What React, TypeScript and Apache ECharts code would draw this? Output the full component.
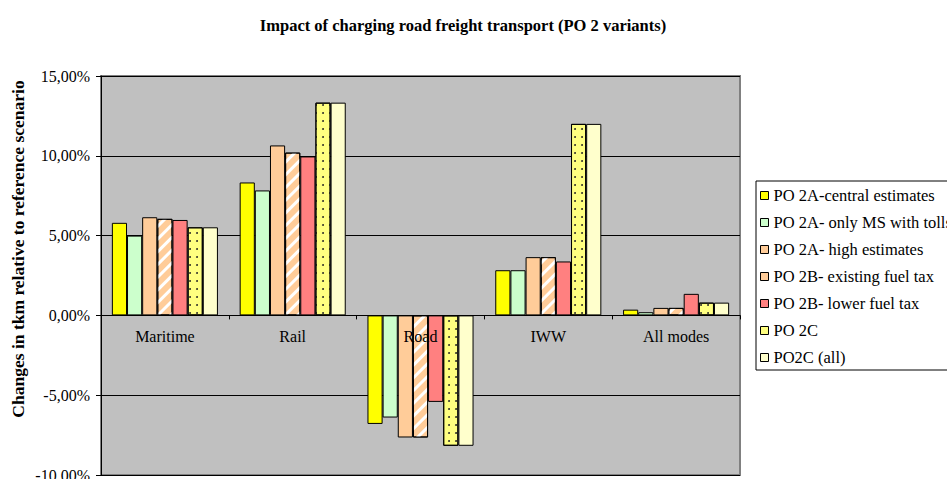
import React, { useEffect, useRef } from "react";
import * as echarts from "echarts";

const categories = ["Maritime", "Rail", "Road", "IWW", "All modes"];
const seriesNames = [
  "PO 2A-central estimates",
  "PO 2A- only MS with tolls",
  "PO 2A- high estimates",
  "PO 2B- existing fuel tax",
  "PO 2B- lower fuel tax",
  "PO 2C",
  "PO2C (all)",
];
const po2aCentral = [5.8, 8.33, -6.8, 2.83, 0.36];
const po2aOnlyMS = [5.0, 7.83, -6.4, 2.83, 0.2];
const po2aHigh = [6.15, 10.65, -7.65, 3.65, 0.47];
const po2bExisting = [6.05, 10.2, -7.65, 3.65, 0.47];
const po2bLower = [5.98, 9.96, -5.42, 3.38, 1.35];
const po2c = [5.52, 13.33, -8.17, 12.0, 0.8];
const po2cAll = [5.52, 13.33, -8.17, 12.0, 0.8];
const yTicks = [-10, -5, 0, 5, 10, 15];

const FONT = "Times New Roman, Liberation Serif, serif";

const GRID_TOP = 76;
const GRID_BOTTOM = 4;
const CHART_H = 479;

export default function App() {
  const ref = useRef<HTMLDivElement>(null);
  useEffect(() => {
    if (!ref.current) return;
    const chart = echarts.init(ref.current, undefined, { renderer: "svg" });
    const values = [po2aCentral, po2aOnlyMS, po2aHigh, po2bExisting, po2bLower, po2c, po2cAll];
    const colors = ["#FFFF00", "#CCFFCC", "#FFCC99", "#FFCC99", "#FF8080", "#FFFF80", "#FFFFCC"];
    const decals: any[] = [
      null,
      null,
      null,
      {
        symbol: "rect",
        symbolSize: 1,
        color: "#ffffff",
        dashArrayX: [1, 0],
        dashArrayY: [3, 6],
        rotation: -Math.PI / 4,
      },
      null,
      {
        symbol: "circle",
        symbolSize: 0.9,
        color: "#222222",
        dashArrayX: [2, 5],
        dashArrayY: [2, 6],
      },
      null,
    ];
    const series = values.map((v, i) => ({
      name: seriesNames[i],
      type: "bar",
      data: v,
      barGap: "0%",
      barCategoryGap: "17%",
      itemStyle: {
        color: colors[i],
        borderColor: "#000",
        borderWidth: 1,
        ...(decals[i] ? { decal: decals[i] } : {}),
      },
    }));
    const yMin = yTicks[0];
    const yMax = yTicks[yTicks.length - 1];
    const gridH = CHART_H - GRID_TOP - GRID_BOTTOM;
    const zeroOffset = -(gridH * (0 - yMin)) / (yMax - yMin);
    chart.setOption({
      animation: false,
      textStyle: { fontFamily: FONT },
      title: {
        text: "Impact of charging road freight transport (PO 2 variants)",
        left: 458,
        textAlign: "center",
        top: 12,
        textStyle: { fontFamily: FONT, fontSize: 16.5, fontWeight: "bold", color: "#000" },
      },
      grid: {
        left: 101,
        right: 207,
        top: GRID_TOP,
        bottom: GRID_BOTTOM,
        show: true,
        containLabel: false,
        outerBoundsMode: "none",
        backgroundColor: "#C0C0C0",
        borderColor: "#808080",
        borderWidth: 2,
      },
      legend: {
        orient: "vertical",
        left: 756,
        top: 181,
        data: seriesNames,
        icon: "rect",
        itemWidth: 8,
        itemHeight: 8,
        itemGap: 10,
        padding: [6, 6, 4, 4],
        borderColor: "#000",
        borderWidth: 1,
        backgroundColor: "#fff",
        itemStyle: { borderColor: "#000", borderWidth: 1, decal: "none" },
        textStyle: { fontFamily: FONT, fontSize: 16.5, color: "#000", lineHeight: 16 },
      },
      xAxis: {
        type: "category",
        data: categories,
        z: 10,
        offset: zeroOffset,
        axisLine: { onZero: false, lineStyle: { color: "#000", width: 1 } },
        axisTick: { show: true, length: 4, lineStyle: { color: "#000" } },
        axisLabel: { fontFamily: FONT, fontSize: 16, color: "#000", margin: 13 },
      },
      yAxis: {
        type: "value",
        min: yMin,
        max: yMax,
        interval: 5,
        axisLine: { show: true, lineStyle: { color: "#000", width: 1 } },
        axisTick: { show: true, length: 5, lineStyle: { color: "#000" } },
        axisLabel: {
          fontFamily: FONT,
          fontSize: 16,
          color: "#000",
          margin: 11,
          formatter: (v: number) => v.toFixed(2).replace(".", ",") + "%",
        },
        splitLine: { show: true, lineStyle: { color: "#000", width: 1 } },
      },
      graphic: [
        {
          type: "text",
          x: 18,
          y: 249,
          rotation: Math.PI / 2,
          style: {
            text: "Changes in tkm relative to reference scenario",
            fontFamily: FONT,
            fontSize: 17.5,
            fontWeight: "bold",
            fill: "#000",
            align: "center",
            verticalAlign: "middle",
          },
        },
      ],
      series,
    });
    return () => chart.dispose();
  }, []);
  return (
    <div
      ref={ref}
      style={{ position: "fixed", left: 0, top: 0, width: 947, height: 479, background: "#fff" }}
    />
  );
}
